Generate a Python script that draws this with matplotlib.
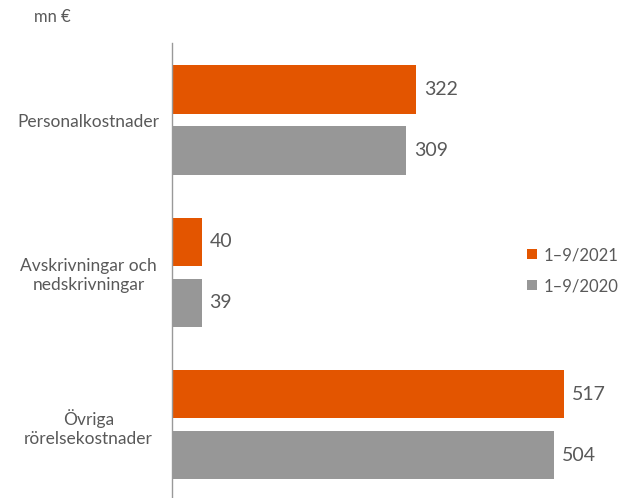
import matplotlib.pyplot as plt
import numpy as np

plt.rcParams['font.family'] = ['Lato', 'DejaVu Sans']

categories = ["Personalkostnader", "Avskrivningar och\nnedskrivningar", "Övriga\nrörelsekostnader"]
v2021 = [322, 40, 517]
v2020 = [309, 39, 504]
series = ["1–9/2021", "1–9/2020"]

orange = "#E35500"
grey = "#979797"
txt = "#595959"

fig = plt.figure(figsize=(6.25, 4.98), dpi=100)
ax = fig.add_axes([172/625, 0, 453/625, 1 - 43/498])

y = np.arange(len(categories))
h = 0.315
ax.barh(y - 0.2, v2021, height=h, color=orange, label=series[0])
ax.barh(y + 0.2, v2020, height=h, color=grey, label=series[1])

for yy, v in zip(y - 0.2, v2021):
    ax.text(v + 10, yy, str(v), va="center", ha="left", fontsize=14, color=txt)
for yy, v in zip(y + 0.2, v2020):
    ax.text(v + 10, yy, str(v), va="center", ha="left", fontsize=14, color=txt)

ax.set_xlim(0, 453/0.758)
ax.set_ylim(2.479, -0.505)
ax.set_xticks([])
ax.set_yticks(y)
ax.set_yticklabels(categories, ha="center", multialignment="center", fontsize=12.5, color=txt)
ax.tick_params(axis="y", length=0, pad=60)
for s in ["top", "right", "bottom"]:
    ax.spines[s].set_visible(False)
ax.spines["left"].set_color("#999999")
ax.spines["left"].set_linewidth(1)

fig.text(52/625, 1 - 17/498, "mn €", fontsize=12, color=txt, ha="center", va="center")

ax.legend(loc="upper left", bbox_to_anchor=(512/625, 1 - 232/498), bbox_transform=fig.transFigure,
          frameon=False, fontsize=12, handlelength=0.6, handleheight=0.6, handletextpad=0.4,
          labelspacing=0.9, labelcolor=txt)

fig.savefig("out.png", dpi=100)
